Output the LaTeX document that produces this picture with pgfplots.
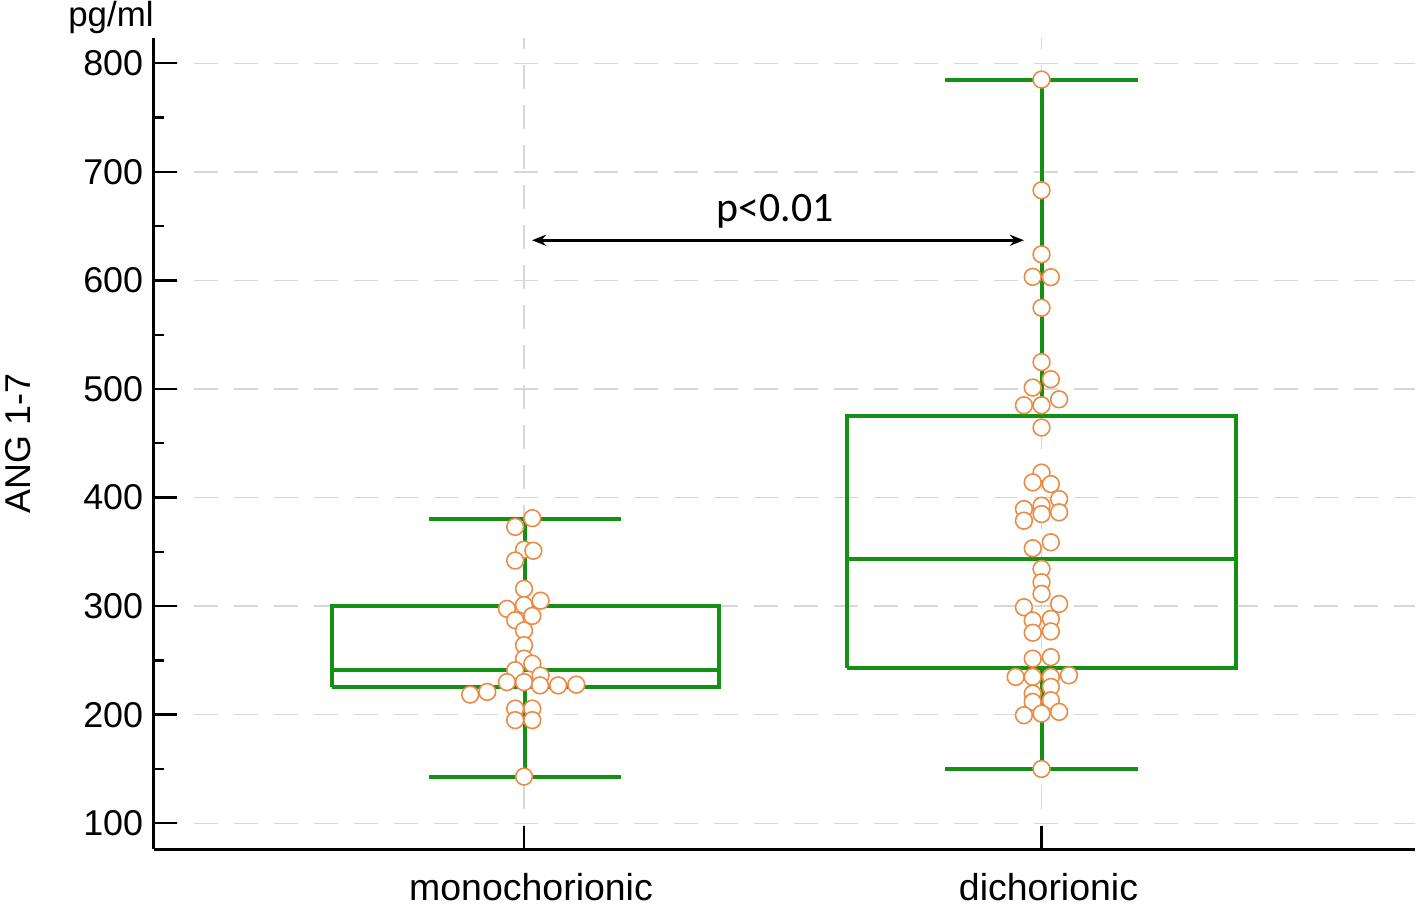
\documentclass[border=0pt]{standalone}
\usepackage{pgfplots}
\pgfplotsset{compat=1.18}
\usepackage{pgfplotstable}
\usetikzlibrary{arrows.meta}
\usepackage{fontspec}
\setmainfont{Liberation Sans}
\newfontfamily\calib{Carlito}
\definecolor{boxgreen}{RGB}{20,145,20}
\definecolor{dotorange}{RGB}{235,140,70}
\definecolor{gridgray}{RGB}{215,215,215}

\pgfplotstableread{
x y
1.016 381
0.983 373
1.000 352
1.018 351
0.983 342
1.000 316
0.967 297.5
1.000 301
1.032 305
0.983 287
1.016 291
1.000 277.6
1.000 264
1.000 251.6
1.016 247
0.983 241
1.032 236
0.967 230
1.000 230
1.031 227
1.066 227
1.101 227.7
0.929 221
0.896 218.5
0.983 205.6
1.016 205.6
0.983 195
1.016 195
1.000 143
}\monodata

\pgfplotstableread{
x y
2.000 785
2.000 683
2.000 624
1.983 603.3
2.018 603
2.000 574.8
2.000 524.8
2.018 509
1.983 501.3
1.966 485
2.000 485
2.034 490.5
2.000 464.5
2.000 423
1.983 414
2.018 412.4
2.034 398.6
2.000 392.5
1.966 389.4
2.034 386.4
1.966 378.7
2.000 384.8
2.018 358.8
1.983 353.3
2.000 334.3
2.000 322
2.000 311.3
2.034 302
1.966 299
2.018 288.3
1.983 286.8
2.018 276.7
1.983 275.5
1.983 251.6
2.018 253
1.950 234.8
2.053 236.3
1.983 234.8
2.018 234.8
2.018 225.6
1.983 219.4
2.018 213.3
1.983 211.8
1.966 199.5
2.000 201
2.034 202.6
2.000 150
}\dichdata

\begin{document}
\begin{tikzpicture}
\begin{axis}[
  scale only axis, width=630.5bp, height=405.5bp,
  xmin=0.285, xmax=2.7217, ymin=76.3, ymax=823.3,
  axis x line*=bottom, axis y line*=left,
  axis line style={line width=1.5bp, black},
  tick align=inside,
  xtick={1,2}, xticklabels={monochorionic,dichorionic},
  ytick={100,200,...,800}, minor y tick num=1,
  major tick length=11.5bp, minor tick length=5bp,
  tick style={line width=1.2bp, black},
  xmajorgrids, ymajorgrids,
  major grid style={gridgray, line width=0.7bp, dash pattern=on 12bp off 8bp},
  clip=false,
  /pgf/number format/assume math mode=true,
  ticklabel style={font=\fontsize{18}{21}\selectfont},
  yticklabel style={anchor=east, inner sep=0pt, xshift=-5.25bp},
  xticklabel style={anchor=base, inner sep=0pt, yshift=-25.75bp, xshift=3.5bp,
    font=\fontsize{18.8}{21}\selectfont},
]
\coordinate (O) at (rel axis cs:0,0);

% monochorionic box
\addplot[boxgreen, line width=2bp, line join=miter] coordinates {(0.628,225.5) (1.376,225.5) (1.376,300) (0.628,300) (0.628,225.5)};
\addplot[boxgreen, line width=2bp] coordinates {(0.628,241.4) (1.376,241.4)};
\addplot[boxgreen, line width=2bp] coordinates {(1.002,300) (1.002,380.5)};
\addplot[boxgreen, line width=2bp] coordinates {(1.002,225.5) (1.002,143)};
\addplot[boxgreen, line width=2bp] coordinates {(0.816,380.5) (1.187,380.5)};
\addplot[boxgreen, line width=2bp] coordinates {(0.816,143) (1.187,143)};
% dichorionic box
\addplot[boxgreen, line width=2bp, line join=miter] coordinates {(1.625,242.8) (2.375,242.8) (2.375,475.5) (1.625,475.5) (1.625,242.8)};
\addplot[boxgreen, line width=2bp] coordinates {(1.625,343.5) (2.375,343.5)};
\addplot[boxgreen, line width=2bp] coordinates {(2,475.5) (2,785)};
\addplot[boxgreen, line width=2bp] coordinates {(2,242.8) (2,150)};
\addplot[boxgreen, line width=2bp] coordinates {(1.814,785) (2.186,785)};
\addplot[boxgreen, line width=2bp] coordinates {(1.814,150) (2.186,150)};

\addplot[only marks, mark=*, mark size=4.2bp,
  mark options={fill=white, draw=dotorange, line width=0.8bp}] table[x=x,y=y] {\monodata};
\addplot[only marks, mark=*, mark size=4.2bp,
  mark options={fill=white, draw=dotorange, line width=0.8bp}] table[x=x,y=y] {\dichdata};

\draw[{Stealth[length=7bp,width=5.5bp]}-{Stealth[length=7bp,width=5.5bp]}, line width=1.3bp]
  (axis cs:1.0155,637) -- (axis cs:1.966,637);
\node[anchor=base, inner sep=0pt, font=\calib\fontsize{21}{24}\selectfont]
  at (axis cs:1.485,654) {p<0.01};

\node[rotate=90, inner sep=0pt, font=\fontsize{18}{21}\selectfont]
  at ([xshift=-68bp]rel axis cs:0,0.5) {ANG 1-7};
\node[anchor=base east, inner sep=0pt, font=\fontsize{17.5}{21}\selectfont]
  at ([yshift=5.5bp]rel axis cs:0,1) {pg/ml};
\end{axis}
\path ([shift={(-77bp,-30bp)}]O) rectangle ([shift={(631.5bp,424.5bp)}]O);
\end{tikzpicture}
\end{document}
